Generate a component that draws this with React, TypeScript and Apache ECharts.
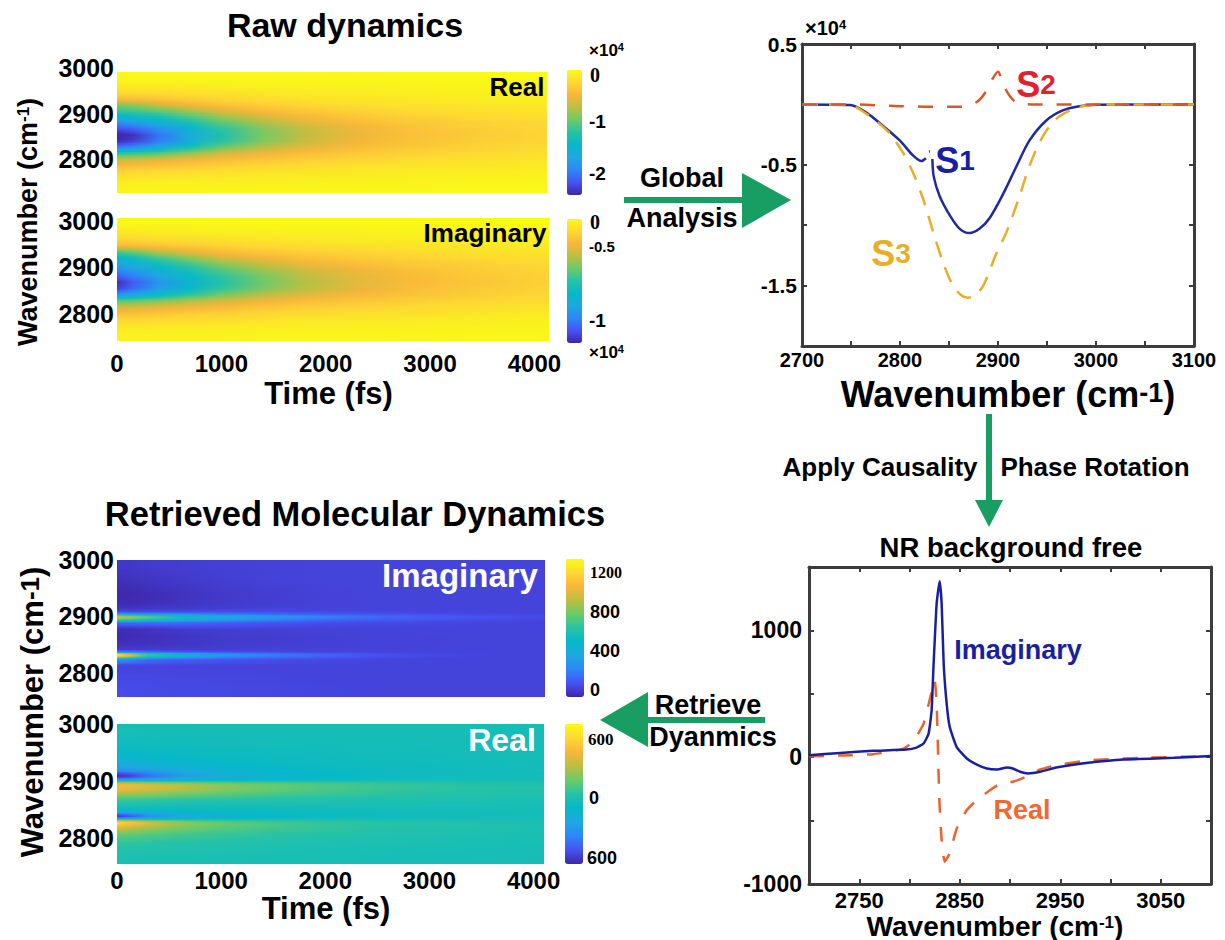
import React, { useEffect, useRef } from "react";
import * as echarts from "echarts";

const FONT = "'Liberation Sans', Arial, sans-serif";
const SERIF = "'Liberation Serif', serif";
const GREEN = "#189e63";
const PARULA = ["#3e26a8", "#4752f4", "#2d87f7", "#1ea8e0", "#06b8c8", "#26c2a6", "#6bcb69", "#bbbf42", "#f8b63a", "#fdd833", "#f9fb15"];

// Raw dynamics: values by time column (top row first), units of 1e4
const rawTimes = [0, 150, 400, 700, 1000, 1400, 1800, 2300, 2800, 3400, 4140];
const rawEdges = [3000, 2987, 2973, 2960, 2947, 2934, 2920, 2907, 2894, 2881, 2868, 2854, 2841, 2828, 2815, 2801, 2788, 2775, 2762, 2748, 2735];
const rawRealColumns = [
  [0.03, 0, -0.08, -0.2, -0.4, -0.9, -1.15, -1.5, -1.9, -2.2, -2.45, -2.35, -1.95, -1.15, -0.65, -0.4, -0.22, -0.1, -0.03, 0],
  [0.03, 0, -0.08, -0.2, -0.38, -0.85, -1.1, -1.45, -1.8, -2.1, -2.35, -2.25, -1.85, -1.1, -0.62, -0.38, -0.2, -0.1, -0.03, 0],
  [0.03, 0, -0.07, -0.17, -0.33, -0.65, -1.0, -1.3, -1.6, -1.85, -2.0, -1.95, -1.6, -1.0, -0.55, -0.34, -0.18, -0.09, -0.02, 0],
  [0.03, 0, -0.06, -0.14, -0.27, -0.48, -0.8, -1.05, -1.3, -1.5, -1.62, -1.55, -1.25, -0.8, -0.47, -0.3, -0.16, -0.08, -0.02, 0],
  [0.03, 0.01, -0.05, -0.12, -0.22, -0.36, -0.58, -0.82, -1.02, -1.16, -1.24, -1.16, -0.94, -0.6, -0.4, -0.26, -0.14, -0.07, -0.02, 0.01],
  [0.03, 0.01, -0.04, -0.1, -0.17, -0.28, -0.42, -0.6, -0.75, -0.86, -0.9, -0.85, -0.68, -0.47, -0.33, -0.21, -0.12, -0.06, -0.01, 0.01],
  [0.03, 0.01, -0.03, -0.07, -0.13, -0.21, -0.32, -0.44, -0.56, -0.64, -0.67, -0.63, -0.52, -0.38, -0.27, -0.17, -0.1, -0.05, -0.01, 0.01],
  [0.03, 0.02, -0.02, -0.05, -0.1, -0.16, -0.24, -0.33, -0.41, -0.47, -0.49, -0.46, -0.39, -0.3, -0.21, -0.14, -0.08, -0.04, 0, 0.02],
  [0.04, 0.02, -0.01, -0.04, -0.08, -0.13, -0.19, -0.26, -0.32, -0.36, -0.37, -0.35, -0.31, -0.24, -0.17, -0.11, -0.06, -0.03, 0, 0.02],
  [0.04, 0.03, 0, -0.03, -0.06, -0.1, -0.15, -0.2, -0.25, -0.28, -0.29, -0.27, -0.24, -0.19, -0.13, -0.09, -0.05, -0.02, 0.01, 0.03],
  [0.05, 0.03, 0.01, -0.02, -0.04, -0.07, -0.11, -0.15, -0.19, -0.21, -0.22, -0.21, -0.18, -0.14, -0.1, -0.07, -0.03, -0.01, 0.01, 0.03],
];
const rawImagColumns = [
  [0.02, 0, -0.04, -0.1, -0.2, -0.52, -0.72, -0.85, -0.95, -1.05, -1.18, -1.12, -0.9, -0.5, -0.3, -0.18, -0.1, -0.05, -0.01, 0],
  [0.02, 0, -0.04, -0.1, -0.19, -0.46, -0.67, -0.78, -0.88, -0.97, -1.06, -1.02, -0.82, -0.48, -0.29, -0.18, -0.1, -0.05, -0.01, 0],
  [0.02, 0, -0.03, -0.08, -0.16, -0.34, -0.54, -0.66, -0.76, -0.84, -0.9, -0.86, -0.7, -0.43, -0.26, -0.16, -0.09, -0.04, -0.01, 0],
  [0.02, 0, -0.03, -0.07, -0.14, -0.25, -0.42, -0.54, -0.64, -0.7, -0.74, -0.7, -0.57, -0.36, -0.23, -0.14, -0.08, -0.04, -0.01, 0],
  [0.02, 0, -0.02, -0.06, -0.11, -0.19, -0.3, -0.42, -0.51, -0.57, -0.6, -0.56, -0.45, -0.3, -0.2, -0.13, -0.07, -0.03, -0.01, 0],
  [0.02, 0.01, -0.02, -0.05, -0.09, -0.15, -0.23, -0.32, -0.39, -0.44, -0.46, -0.43, -0.34, -0.24, -0.16, -0.1, -0.06, -0.03, 0, 0.01],
  [0.02, 0.01, -0.01, -0.04, -0.07, -0.12, -0.18, -0.24, -0.3, -0.33, -0.35, -0.33, -0.27, -0.19, -0.13, -0.09, -0.05, -0.02, 0, 0.01],
  [0.02, 0.01, -0.01, -0.03, -0.06, -0.1, -0.14, -0.19, -0.23, -0.25, -0.26, -0.25, -0.21, -0.16, -0.11, -0.07, -0.04, -0.02, 0, 0.01],
  [0.02, 0.01, 0, -0.02, -0.05, -0.08, -0.12, -0.15, -0.18, -0.2, -0.2, -0.19, -0.17, -0.13, -0.09, -0.06, -0.03, -0.01, 0, 0.01],
  [0.02, 0.01, 0, -0.02, -0.04, -0.06, -0.09, -0.12, -0.14, -0.15, -0.16, -0.15, -0.13, -0.1, -0.07, -0.05, -0.02, -0.01, 0.01, 0.02],
  [0.03, 0.02, 0.01, -0.01, -0.03, -0.05, -0.07, -0.09, -0.11, -0.12, -0.12, -0.11, -0.1, -0.08, -0.05, -0.03, -0.01, 0, 0.01, 0.02],
];

// Retrieved dynamics
const retrTimes = [0, 100, 300, 600, 1000, 1500, 2000, 2500, 3000, 3500, 4100];
const retrImagEdges = [3000, 2975, 2950, 2930, 2918, 2910, 2905, 2902, 2899, 2896, 2892, 2885, 2870, 2855, 2843, 2838, 2835, 2832, 2829, 2826, 2820, 2805, 2785, 2757];
const retrImagColumns = [
  [25, 0, -25, -15, 15, 90, 450, 900, 980, 700, 170, -10, -15, 5, 40, 300, 1100, 1280, 900, 300, 60, 75, 90],
  [25, 5, -22, -12, 18, 90, 420, 820, 900, 660, 180, -5, -10, 8, 40, 260, 950, 1100, 780, 260, 60, 75, 85],
  [35, 15, -10, -5, 22, 90, 370, 700, 760, 560, 175, 10, 0, 12, 40, 180, 620, 700, 500, 180, 60, 75, 80],
  [40, 28, 8, 12, 30, 95, 300, 530, 570, 420, 170, 35, 12, 25, 45, 130, 420, 470, 340, 140, 60, 72, 78],
  [50, 45, 30, 30, 40, 100, 230, 400, 430, 320, 140, 45, 30, 35, 50, 100, 290, 320, 240, 110, 60, 70, 75],
  [55, 55, 45, 45, 55, 90, 170, 300, 320, 230, 110, 50, 40, 45, 55, 80, 200, 220, 170, 90, 60, 65, 70],
  [60, 60, 55, 55, 55, 80, 135, 220, 230, 165, 90, 55, 50, 50, 55, 65, 140, 155, 120, 75, 60, 62, 65],
  [60, 60, 60, 58, 60, 72, 105, 160, 170, 125, 75, 58, 55, 55, 58, 62, 95, 105, 85, 65, 60, 60, 62],
  [62, 62, 60, 60, 60, 68, 90, 125, 130, 100, 70, 60, 58, 58, 58, 60, 72, 78, 66, 60, 60, 60, 60],
  [62, 62, 62, 60, 60, 65, 78, 100, 105, 82, 65, 60, 60, 60, 60, 60, 65, 68, 62, 60, 60, 60, 60],
  [62, 62, 62, 62, 62, 62, 68, 78, 80, 70, 62, 60, 60, 60, 60, 60, 60, 62, 60, 60, 60, 60, 60],
];
const retrRealEdges = [3000, 2975, 2950, 2935, 2925, 2918, 2913, 2909, 2905, 2902, 2899, 2895, 2890, 2882, 2874, 2864, 2854, 2847, 2843, 2839, 2836, 2833, 2830, 2826, 2820, 2812, 2800, 2785, 2770, 2754];
const retrRealColumns = [
  [20, -20, -90, -170, -280, -420, -640, -620, -400, -100, 350, 560, 520, 370, 170, 60, -40, -200, -500, -650, -300, 200, 720, 650, 420, 230, 120, 70, 40],
  [20, -20, -85, -160, -260, -390, -580, -570, -370, -90, 330, 540, 510, 360, 165, 55, -40, -180, -440, -570, -260, 180, 620, 590, 390, 220, 115, 65, 40],
  [15, -15, -70, -130, -210, -310, -430, -420, -280, -60, 290, 480, 460, 330, 150, 45, -35, -130, -290, -370, -160, 130, 450, 450, 320, 190, 105, 60, 35],
  [15, -10, -50, -95, -150, -210, -280, -270, -180, -40, 240, 400, 390, 280, 130, 35, -30, -85, -170, -210, -90, 90, 310, 320, 250, 160, 90, 55, 35],
  [15, -5, -35, -65, -100, -140, -175, -170, -110, -20, 190, 310, 300, 225, 110, 30, -25, -55, -100, -120, -50, 70, 210, 230, 190, 130, 75, 50, 30],
  [15, 0, -22, -42, -65, -90, -105, -100, -65, -5, 150, 235, 230, 175, 90, 30, -15, -35, -60, -70, -25, 55, 145, 165, 145, 100, 60, 40, 25],
  [15, 5, -12, -28, -42, -55, -65, -62, -35, 5, 120, 180, 175, 140, 75, 30, -5, -20, -35, -40, -10, 45, 105, 125, 110, 80, 50, 35, 25],
  [15, 8, -5, -15, -25, -32, -38, -35, -18, 12, 95, 140, 135, 110, 65, 30, 5, -10, -20, -20, 0, 40, 80, 95, 85, 65, 45, 30, 20],
  [15, 10, 0, -8, -12, -18, -20, -18, -8, 15, 75, 110, 105, 90, 55, 30, 10, 0, -8, -8, 5, 32, 60, 72, 68, 52, 38, 25, 18],
  [15, 12, 5, 0, -4, -7, -8, -6, 0, 18, 60, 85, 85, 72, 48, 28, 15, 8, 2, 2, 10, 28, 48, 58, 55, 43, 32, 22, 16],
  [15, 12, 8, 5, 3, 2, 2, 3, 8, 20, 48, 68, 68, 58, 40, 25, 15, 10, 8, 8, 12, 22, 38, 45, 42, 35, 25, 18, 14],
];

// Spectra: [wavenumber, value]
const s1Points = [[2700, 0], [2749, -0.005], [2766, -0.07], [2783, -0.18], [2800, -0.3], [2813, -0.42], [2822, -0.469], [2826.5, -0.446], [null, null], [2829.5, -0.39], [2830.5, -0.39], [null, null], [2833, -0.452], [2834.5, -0.6], [2840.5, -0.76], [2851, -0.92], [2861, -1.03], [2871, -1.065], [2881, -1.03], [2891.5, -0.94], [2905, -0.745], [2919, -0.51], [2932, -0.3], [2949, -0.135], [2966, -0.05], [2983, -0.015], [3000, -0.002], [3100, 0]];
const s2Points = [[2700, 0], [2750, 0], [2800, -0.015], [2850, -0.02], [2860, -0.02], [2870, -0.01], [2880, 0.03], [2888, 0.11], [2895, 0.22], [2900, 0.27], [2905, 0.17], [2912, 0.07], [2920, 0.01], [2935, 0], [3100, 0]];
const s3Points = [[2700, 0], [2749, -0.005], [2766, -0.08], [2776, -0.14], [2789.5, -0.24], [2803, -0.4], [2813, -0.56], [2823.5, -0.78], [2834, -1.06], [2844, -1.31], [2854, -1.5], [2862.5, -1.58], [2869, -1.6], [2876, -1.585], [2885, -1.5], [2898, -1.24], [2908.5, -1.06], [2922, -0.76], [2932, -0.51], [2946, -0.26], [2959.5, -0.12], [2976.5, -0.04], [2993.5, -0.005], [3010, 0], [3100, 0]];
const nrImagPoints = [[2700, 15], [2731, 34], [2764, 50], [2797, 60], [2807, 76], [2814, 108], [2819, 186], [2822, 370], [2824, 737], [2827, 1210], [2830, 1388], [2832, 1210], [2834, 737], [2837, 420], [2840, 240], [2847, 80], [2857, -10], [2867, -58], [2877, -89], [2887, -97], [2897, -81], [2902, -87], [2910, -115], [2918, -128], [2930, -115], [2946, -81], [2980, -42], [3013, -18], [3063, -5], [3100, 10]];
const nrRealPoints = [[2700, 8], [2731, 13], [2764, 24], [2794, 68], [2804, 128], [2814, 265], [2820, 449], [2825, 606], [2827, 422], [2828, 160], [2829, -155], [2830, -391], [2832, -654], [2835, -824], [2840, -758], [2847, -562], [2857, -417], [2867, -339], [2880, -260], [2892, -200], [2903, -194], [2917, -150], [2930, -97], [2946, -63], [2980, -24], [3029, -5], [3100, 8]];

// Tick labels
const timeTicks = [0, 1000, 2000, 3000, 4000];
const mapWaveTicks = [2800, 2900, 3000];
const sXLabels = [2700, 2800, 2900, 3000, 3100];
const sYLabels = [0.5, -0.5, -1.5];
const nrXLabels = [2750, 2850, 2950, 3050];
const nrYLabels = [1000, 0, -1000];

function hexToRgb(h: string) {
  return [parseInt(h.slice(1, 3), 16), parseInt(h.slice(3, 5), 16), parseInt(h.slice(5, 7), 16)];
}
function colormap(v: number, min: number, max: number) {
  const n = Math.max(0, Math.min(1, (v - min) / (max - min))) * (PARULA.length - 1);
  const i = Math.min(PARULA.length - 2, Math.floor(n));
  const a = hexToRgb(PARULA[i]);
  const b = hexToRgb(PARULA[i + 1]);
  const f = n - i;
  return `rgb(${a.map((c, k) => Math.round(c + (b[k] - c) * f)).join(",")})`;
}

// Each row is drawn with a gradient along time and shaded towards its neighbouring rows.
function heatSeries(name: string, axis: number, times: number[], edges: number[], columns: number[][], min: number, max: number) {
  const t0 = times[0];
  const t1 = times[times.length - 1];
  const data = edges.slice(1).map((lo, i) => [t0, t1, lo, edges[i], ...columns.map((c) => c[i])]);
  const centre = (i: number) => (data[i][2] + data[i][3]) / 2;
  return {
    type: "custom",
    name,
    xAxisIndex: axis,
    yAxisIndex: axis,
    silent: true,
    clip: true,
    encode: { x: [0, 1], y: [2, 3] },
    data,
    renderItem: (params: any, api: any) => {
      const i = params.dataIndex;
      const row = data[i];
      const a = api.coord([t0, row[3]]);
      const b = api.coord([t1, row[2]]);
      const h = b[1] - a[1];
      const n = Math.max(1, Math.ceil(h / 1.5));
      const children: any[] = [];
      for (let s = 0; s < n; s++) {
        const w = row[3] - ((s + 0.5) / n) * (row[3] - row[2]);
        const c = centre(i);
        const j = w > c ? i - 1 : i + 1;
        const other = data[j];
        const f = other ? Math.abs(w - c) / Math.abs(centre(j) - c) : 0;
        const stops = times.map((t, k) => {
          const v0 = row[4 + k];
          const v = other ? v0 + (other[4 + k] - v0) * f : v0;
          return { offset: (t - t0) / (t1 - t0), color: colormap(v, min, max) };
        });
        children.push({
          type: "rect",
          shape: { x: a[0], y: a[1] + (s * h) / n, width: b[0] - a[0], height: h / n + 0.8 },
          style: { fill: new echarts.graphic.LinearGradient(0, 0, 1, 0, stops) },
        });
      }
      return { type: "group", children };
    },
  };
}

const boldText = { fontFamily: FONT, fontWeight: "bold", color: "#000" };

function mapAxes(grid: number, tMax: number, yMin: number, labelled: boolean, labelMargin: number, nameGap: number, yAlign: string, yLine: number) {
  return {
    x: {
      type: "value",
      gridIndex: grid,
      min: 0,
      max: tMax,
      show: labelled,
      name: labelled ? "Time (fs)" : "",
      nameLocation: "middle",
      nameGap,
      nameMoveOverlap: false,
      nameTextStyle: { ...boldText, fontSize: 31, padding: [0, 9, 0, 0] },
      axisLine: { show: false },
      axisTick: { show: false },
      splitLine: { show: false },
      axisLabel: { ...boldText, fontSize: 24, margin: labelMargin, customValues: timeTicks, formatter: (v: number) => String(v) },
    },
    y: {
      type: "value",
      gridIndex: grid,
      min: yMin,
      max: 3000,
      axisLine: { show: false, onZero: false },
      axisTick: { show: false },
      splitLine: { show: false },
      axisLabel: { ...boldText, fontSize: 25, margin: 3, customValues: mapWaveTicks, formatter: (v: number) => String(v), verticalAlign: yAlign, lineHeight: yLine },
    },
  };
}

const FRAME = "#3c3c3c";
function frameAxis(grid: number, min: number, max: number, interval: number, position: string, labels: number[] | null, fontSize: number, margin: number) {
  return {
    type: "value",
    gridIndex: grid,
    min,
    max,
    interval,
    position,
    axisLine: { show: true, onZero: false, lineStyle: { color: FRAME, width: 3 } },
    axisTick: { show: true, inside: true, length: 5, lineStyle: { color: FRAME, width: 2 } },
    splitLine: { show: false },
    axisLabel: labels
      ? { ...boldText, fontSize, margin, customValues: labels, showMinLabel: true, showMaxLabel: true, hideOverlap: false, formatter: (v: number) => String(v) }
      : { show: false },
  };
}

function line(name: string, axis: number, points: any[], color: string, width: number, dash: any, smooth: number) {
  return {
    type: "line",
    name,
    xAxisIndex: axis,
    yAxisIndex: axis,
    data: points,
    showSymbol: false,
    symbol: "none",
    smooth,
    connectNulls: false,
    lineStyle: { color, width, type: dash || "solid", cap: "butt" },
    silent: true,
  };
}

function label(text: string, x: number, y: number, size: number, fill = "#000", extra: any = {}) {
  const { rich, family, rotation, align } = extra;
  return {
    type: "text",
    x,
    y,
    z: 100,
    rotation: rotation || 0,
    silent: true,
    style: {
      text,
      fontSize: size,
      fontWeight: "bold",
      fontFamily: family || FONT,
      fill,
      align: align || "center",
      verticalAlign: "middle",
      rich,
    },
  };
}

function supRich(size: number, supSize: number, fill = "#000", lineHeight?: number) {
  return {
    a: { fontSize: size, fontWeight: "bold", fontFamily: FONT, fill, color: fill, lineHeight },
    b: { fontSize: supSize, fontWeight: "bold", fontFamily: FONT, fill, color: fill, verticalAlign: "top", lineHeight },
  };
}
function subRich(size: number, subSize: number, fill: string) {
  return {
    a: { fontSize: size, fontWeight: "bold", fontFamily: FONT, fill, color: fill },
    b: { fontSize: subSize, fontWeight: "bold", fontFamily: FONT, fill, color: fill },
  };
}

function colorbar(series: number, min: number, max: number, left: number, top: number, w: number, h: number) {
  return {
    type: "continuous",
    seriesIndex: series,
    dimension: 4,
    min,
    max,
    left,
    top,
    itemWidth: w,
    itemHeight: h,
    padding: 0,
    calculable: false,
    hoverLink: false,
    inRange: { color: PARULA },
  };
}

const RAW_REAL = [-2.4, 0.05];
const RAW_IMAG = [-1.2, 0.03];
const RETR_IMAG = [-30, 1330];
const RETR_REAL = [-670, 850];

function plotGrid(left: number, top: number, width: number, height: number) {
  return { left, top, width, height, outerBoundsMode: "none" };
}

export default function App() {
  const ref = useRef<HTMLDivElement>(null);
  useEffect(() => {
    const chart = echarts.init(ref.current!, undefined, { renderer: "svg" });
    const m0 = mapAxes(0, 4130, 2735, false, 0, 0, "bottom", 8);
    const m1 = mapAxes(1, 4140, 2735, true, 10, 37, "top", 6);
    const m2 = mapAxes(2, 4100, 2757, false, 0, 0, "middle", 25);
    const m3 = mapAxes(3, 4100, 2754, true, 4, 29, "middle", 25);
    chart.setOption({
      animation: false,
      backgroundColor: "#fff",
      title: [
        { text: "Raw dynamics", left: 345, top: 8, textAlign: "center", padding: 0, textStyle: { ...boldText, fontSize: 34 } },
        { text: "Retrieved Molecular Dynamics", left: 355, top: 496, textAlign: "center", padding: 0, textStyle: { ...boldText, fontSize: 34.5 } },
        { text: "NR background free", left: 1011, top: 533, textAlign: "center", padding: 0, textStyle: { ...boldText, fontSize: 27.5 } },
      ],
      grid: [
        plotGrid(117, 72, 430, 121),
        plotGrid(117, 218, 432, 123),
        plotGrid(117, 560, 428, 137),
        plotGrid(117, 724, 427, 140),
        plotGrid(802, 44, 392, 302),
        plotGrid(809, 567, 402, 317),
      ],
      xAxis: [
        m0.x,
        m1.x,
        m2.x,
        m3.x,
        {
          ...frameAxis(4, 2700, 3100, 50, "bottom", sXLabels, 20, 4),
          name: "{a|Wavenumber (cm}{b|-1}{a|)}",
          nameLocation: "middle",
          nameGap: 33,
          nameMoveOverlap: false,
          nameTextStyle: { rich: supRich(36, 27, "#000", 30), padding: [0, 0, 0, 20] },
        },
        frameAxis(4, 2700, 3100, 50, "top", null, 0, 0),
        {
          ...frameAxis(5, 2700, 3100, 50, "bottom", nrXLabels, 22, 5),
          name: "{a|Wavenumber (cm}{b|-1}{a|)}",
          nameLocation: "middle",
          nameGap: 30,
          nameMoveOverlap: false,
          nameTextStyle: { rich: supRich(28, 17, "#000", 24), padding: [0, 30, 0, 0] },
        },
        frameAxis(5, 2700, 3100, 50, "top", null, 0, 0),
      ],
      yAxis: [
        m0.y,
        m1.y,
        m2.y,
        m3.y,
        frameAxis(4, -2, 0.5, 0.5, "left", sYLabels, 21, 5),
        frameAxis(4, -2, 0.5, 0.5, "right", null, 0, 0),
        frameAxis(5, -1000, 1500, 500, "left", nrYLabels, 23, 7),
        frameAxis(5, -1000, 1500, 500, "right", null, 0, 0),
      ],
      visualMap: [
        colorbar(0, RAW_REAL[0], RAW_REAL[1], 567, 70, 15, 125),
        colorbar(1, RAW_IMAG[0], RAW_IMAG[1], 567, 219, 15, 124),
        colorbar(2, RETR_IMAG[0], RETR_IMAG[1], 566, 559, 18, 138),
        colorbar(3, RETR_REAL[0], RETR_REAL[1], 565, 724, 18, 140),
      ],
      series: [
        heatSeries("Raw real", 0, rawTimes, rawEdges, rawRealColumns, RAW_REAL[0], RAW_REAL[1]),
        heatSeries("Raw imaginary", 1, rawTimes, rawEdges, rawImagColumns, RAW_IMAG[0], RAW_IMAG[1]),
        heatSeries("Retrieved imaginary", 2, retrTimes, retrImagEdges, retrImagColumns, RETR_IMAG[0], RETR_IMAG[1]),
        heatSeries("Retrieved real", 3, retrTimes, retrRealEdges, retrRealColumns, RETR_REAL[0], RETR_REAL[1]),
        { ...line("S1", 4, s1Points, "#1f2a9e", 2.5, null, 0.3) },
        { ...line("S3", 4, s3Points, "#e8ae28", 2.5, [16, 11], 0.3) },
        { ...line("S2", 4, s2Points, "#d9582a", 2.5, [15, 14], 0.3) },
        { ...line("Real", 6, nrRealPoints, "#e9632f", 2.5, [15, 14], 0.15) },
        { ...line("Imaginary", 6, nrImagPoints, "#1a1fa0", 2.5, null, 0.15) },
      ],
      graphic: {
        elements: [
          label("{a|Wavenumber (cm}{b|-1}{a|)}", 28, 222, 27, "#000", { rich: supRich(27, 17), rotation: Math.PI / 2 }),
          label("{a|Wavenumber (cm}{b|-1}{a|)}", 32, 712, 31, "#000", { rich: supRich(31, 26), rotation: Math.PI / 2 }),
          label("Real", 517, 87, 26),
          label("Imaginary", 485, 233, 26),
          label("Imaginary", 460, 575, 33, "#fff"),
          label("Real", 502, 740, 32, "#fff"),
          // colour bar labels
          label("{a|×10}{b|4}", 589, 50, 17, "#000", { rich: supRich(17, 11), align: "left" }),
          label("0", 590, 75, 20, "#000", { family: SERIF, align: "left" }),
          label("-1", 589, 121, 19, "#000", { align: "left" }),
          label("-2", 589, 173, 19, "#000", { align: "left" }),
          label("0", 590, 222, 20, "#000", { family: SERIF, align: "left" }),
          label("-0.5", 589, 246, 15, "#000", { align: "left" }),
          label("-1", 589, 320, 19, "#000", { align: "left" }),
          label("{a|×10}{b|4}", 589, 352, 17, "#000", { rich: supRich(17, 11), align: "left" }),
          label("1200", 590, 572, 16, "#000", { family: SERIF, align: "left" }),
          label("800", 590, 612, 18, "#000", { align: "left" }),
          label("400", 590, 651, 18, "#000", { align: "left" }),
          label("0", 590, 690, 18, "#000", { align: "left" }),
          label("600", 588, 739, 17, "#000", { family: SERIF, align: "left" }),
          label("0", 589, 798, 18, "#000", { align: "left" }),
          label("600", 587, 858, 18, "#000", { align: "left" }),
          // spectrum annotations
          label("{a|×10}{b|4}", 805, 28, 20, "#000", { rich: supRich(20, 13), align: "left" }),
          label("{a|S}{b|1}", 955, 160, 36, "#1a1fa0", { rich: subRich(36, 28, "#1a1fa0") }),
          label("{a|S}{b|2}", 1036, 84, 36, "#e5202e", { rich: subRich(36, 28, "#e5202e") }),
          label("{a|S}{b|3}", 891, 253, 36, "#e8ae28", { rich: subRich(36, 28, "#e8ae28") }),
          label("Imaginary", 1018, 650, 27, "#1a1fa0"),
          label("Real", 1022, 810, 27, "#ee6a35"),
          // flow arrows
          { type: "line", z: 90, silent: true, shape: { x1: 624, y1: 200, x2: 745, y2: 200 }, style: { stroke: GREEN, lineWidth: 6 } },
          { type: "polygon", z: 90, silent: true, shape: { points: [[742, 173], [791, 200], [742, 228]] }, style: { fill: GREEN } },
          label("Global", 682, 178, 27),
          label("Analysis", 682, 218, 27),
          { type: "line", z: 90, silent: true, shape: { x1: 989, y1: 414, x2: 989, y2: 502 }, style: { stroke: GREEN, lineWidth: 6 } },
          { type: "polygon", z: 90, silent: true, shape: { points: [[975, 500], [1003, 500], [989, 527]] }, style: { fill: GREEN } },
          label("Apply Causality", 880, 467, 26),
          label("Phase Rotation", 1095, 467, 26),
          { type: "line", z: 90, silent: true, shape: { x1: 645, y1: 720, x2: 765, y2: 720 }, style: { stroke: GREEN, lineWidth: 6 } },
          { type: "polygon", z: 90, silent: true, shape: { points: [[600, 720], [648, 692], [648, 747]] }, style: { fill: GREEN } },
          label("Retrieve", 708, 705, 27),
          label("Dyanmics", 713, 737, 27),
        ],
      },
    });
    return () => chart.dispose();
  }, []);
  return <div ref={ref} style={{ position: "absolute", left: 0, top: 0, width: 1225, height: 940 }} />;
}
